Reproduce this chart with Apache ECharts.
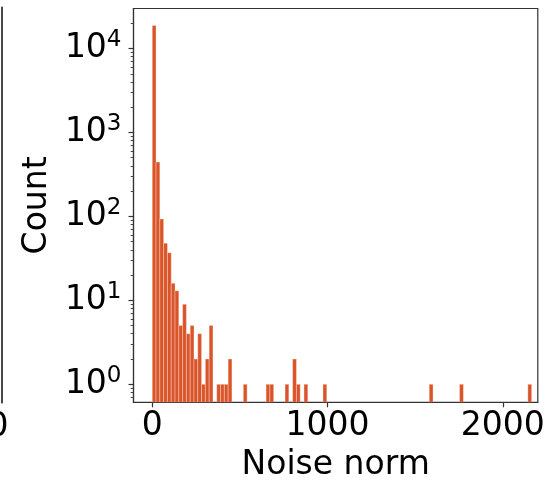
<!DOCTYPE html>
<html>
<head>
<meta charset="utf-8">
<script src="https://cdn.jsdelivr.net/npm/echarts@6/dist/echarts.min.js"></script>
<style>
html,body{margin:0;padding:0;background:#fff;}
#chart{width:557px;height:482px;}
</style>
</head>
<body>
<div id="chart"></div>
<script>
// Histogram: 100 equal bins between binMin and binMax
const binMin = 0;
const binMax = 2165;
const counts = [
  18800, 444, 93, 48, 37, 16, 13, 5, 9, 4,
  5, 2, 4, 1, 2, 5, 0, 1, 1, 1,
  2, 0, 0, 0, 1, 0, 0, 0, 0, 0,
  1, 1, 0, 0, 0, 1, 0, 2, 1, 0,
  1, 0, 0, 0, 0, 1, 0, 0, 0, 0,
  0, 0, 0, 0, 0, 0, 0, 0, 0, 0,
  0, 0, 0, 0, 0, 0, 0, 0, 0, 0,
  0, 0, 0, 1, 0, 0, 0, 0, 0, 0,
  0, 1, 0, 0, 0, 0, 0, 0, 0, 0,
  0, 0, 0, 0, 0, 0, 0, 0, 0, 1
];
const xTicks = [0, 1000, 2000];
const yTicks = [1, 10, 100, 1000, 10000];
const yMinorTicks = [0.7, 0.8, 0.9, 2, 3, 4, 5, 6, 7, 8, 9, 20, 30, 40, 50, 60, 70, 80, 90,
  200, 300, 400, 500, 600, 700, 800, 900, 2000, 3000, 4000, 5000, 6000, 7000, 8000, 9000, 20000];
const xLabel = 'Noise norm';
const yLabel = 'Count';
const neighbourTicks = [0];

const X_MIN = -107, X_MAX = 2200, Y_MIN = 0.61, Y_MAX = 30000;
const FONT = 'DejaVu Sans';
const AX = '#333';

const nBins = counts.length;
const binW = (binMax - binMin) / nBins;
const histData = [];
counts.forEach((c, i) => {
  if (c > 0) histData.push([binMin + i * binW, binMin + (i + 1) * binW, c]);
});

function logLabel(v) {
  const e = Math.round(Math.log10(v));
  return '{b|10}{s|' + e + '}';
}
function plainLabel(v) { return String(Math.round(v)); }

const chart = echarts.init(document.getElementById('chart'), null, {renderer: 'canvas'});
chart.setOption({
  animation: false,
  backgroundColor: '#fff',
  grid: [
    {left: 133.5, right: 19.2, top: 8.5, bottom: 79.7, show: true, borderColor: AX, borderWidth: 1.2, outerBoundsMode: 'none', containLabel: false},
    {left: -300, width: 301.5, top: 7.5, bottom: 79.3, show: false, outerBoundsMode: 'none', containLabel: false}
  ],
  xAxis: [
    {
      type: 'value', gridIndex: 0, min: X_MIN, max: X_MAX,
      name: xLabel, nameLocation: 'middle', nameGap: 47,
      nameTextStyle: {fontFamily: FONT, fontSize: 33, color: '#000'},
      axisLine: {show: true, onZero: false, lineStyle: {color: AX, width: 1.2}},
      axisTick: {show: true, length: 5, lineStyle: {color: AX, width: 1.2}, customValues: xTicks},
      axisLabel: {fontFamily: FONT, fontSize: 33, color: '#000', margin: 8, customValues: xTicks, formatter: plainLabel},
      splitLine: {show: false}
    },
    {
      type: 'value', gridIndex: 1, min: -2000, max: 23.5,
      axisLine: {show: false, onZero: false}, axisTick: {show: false},
      axisLabel: {fontFamily: FONT, fontSize: 33, color: '#000', margin: 8, customValues: neighbourTicks, formatter: plainLabel},
      splitLine: {show: false}
    }
  ],
  yAxis: [
    {
      type: 'log', logBase: 10, gridIndex: 0, min: Y_MIN, max: Y_MAX,
      name: yLabel, nameLocation: 'middle', nameGap: 76, nameRotate: 90,
      nameTextStyle: {fontFamily: FONT, fontSize: 33, color: '#000'},
      axisLine: {show: true, onZero: false, lineStyle: {color: AX, width: 1.2}},
      axisTick: {show: true, length: 5, lineStyle: {color: AX, width: 1.2}, customValues: yTicks},
      axisLabel: {
        fontFamily: FONT, color: '#000', margin: 12, customValues: yTicks,
        formatter: logLabel,
        rich: {
          b: {fontFamily: FONT, fontSize: 33, lineHeight: 40, color: '#000'},
          s: {fontFamily: FONT, fontSize: 23, lineHeight: 23, verticalAlign: 'top', color: '#000'}
        }
      },
      splitLine: {show: false}
    },
    {
      type: 'log', logBase: 10, gridIndex: 0, min: Y_MIN, max: Y_MAX, position: 'left',
      axisLine: {show: false, onZero: false},
      axisTick: {show: true, length: 2.8, lineStyle: {color: AX, width: 0.9}, customValues: yMinorTicks},
      axisLabel: {show: false},
      splitLine: {show: false}
    },
    {
      type: 'value', gridIndex: 1, min: 0, max: 1, position: 'right',
      axisLine: {show: true, onZero: false, lineStyle: {color: AX, width: 1.8}},
      axisTick: {show: false}, axisLabel: {show: false}, splitLine: {show: false}
    }
  ],
  series: [
    {
      type: 'custom',
      xAxisIndex: 0, yAxisIndex: 0,
      clip: true,
      encode: {x: [0, 1], y: 2},
      data: histData,
      renderItem: function (params, api) {
        const x0 = api.value(0), x1 = api.value(1), c = api.value(2);
        const pTop = api.coord([x0, c]);
        const pBot = api.coord([x1, Y_MIN]);
        return {
          type: 'rect',
          shape: {x: pTop[0], y: pTop[1], width: pBot[0] - pTop[0], height: pBot[1] - pTop[1]},
          style: {fill: '#da5429', stroke: 'rgba(255,235,225,0.75)', lineWidth: 0.5}
        };
      }
    }
  ]
});
</script>
</body>
</html>
